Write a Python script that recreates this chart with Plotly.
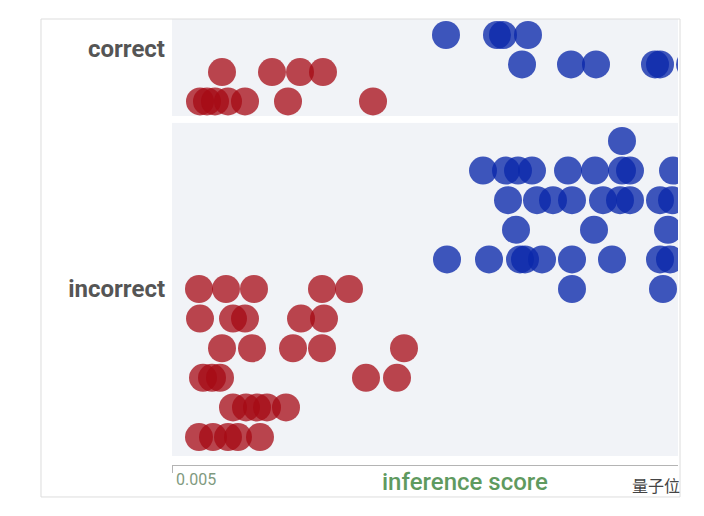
import plotly.graph_objects as go

# swarm positions: x = inference score, y = lane offset inside each band
correct_red_x = [0.105, 0.205, 0.261, 0.307,
                 0.061, 0.075, 0.091, 0.117, 0.151, 0.237, 0.407]
correct_red_y = [-0.13] * 4 + [-1.12] * 7

correct_blue_x = [0.553, 0.655, 0.667, 0.717,
                  0.705, 0.803, 0.853, 0.971, 0.981, 1.041]
correct_blue_y = [1.12] * 4 + [0.13] * 6

incorrect_blue_x = [0.905,
                    0.627, 0.673, 0.697, 0.725, 0.797, 0.851, 0.905, 0.921, 1.007,
                    0.677, 0.735, 0.767, 0.805, 0.867, 0.901, 0.921, 0.981, 1.005,
                    0.693, 0.849, 0.997,
                    0.555, 0.639, 0.701, 0.711, 0.745, 0.805, 0.885, 0.981, 1.001,
                    0.805, 0.987]
incorrect_blue_y = [5] + [4] * 9 + [3] * 9 + [2] * 3 + [1] * 9 + [0] * 2

incorrect_red_x = [0.059, 0.113, 0.169, 0.305, 0.359,
                   0.061, 0.127, 0.151, 0.263, 0.309,
                   0.105, 0.165, 0.247, 0.305, 0.469,
                   0.067, 0.085, 0.101, 0.393, 0.455,
                   0.127, 0.153, 0.175, 0.195, 0.233,
                   0.059, 0.087, 0.117, 0.137, 0.181]
incorrect_red_y = [0] * 5 + [-1] * 5 + [-2] * 5 + [-3] * 5 + [-4] * 5 + [-5] * 5

x_ticks = [0.005]
x_tick_text = ["0.005"]

RED = "rgb(165,10,20)"
BLUE = "rgb(10,40,170)"


def dots(x, y, color, yaxis, alpha):
    return go.Scatter(x=x, y=y, mode="markers", yaxis=yaxis, xaxis="x",
                      marker=dict(size=28, color=color, opacity=alpha, line=dict(width=0)),
                      hoverinfo="x", showlegend=False)


fig = go.Figure()
fig.add_trace(dots(incorrect_red_x, incorrect_red_y, RED, "y", 0.75))
fig.add_trace(dots(incorrect_blue_x, incorrect_blue_y, BLUE, "y", 0.78))
fig.add_trace(dots(correct_red_x, correct_red_y, RED, "y2", 0.75))
fig.add_trace(dots(correct_blue_x, correct_blue_y, BLUE, "y2", 0.78))

label_font = dict(family="Roboto", size=24, color="#555555", weight="bold")

# page body has an 8px margin, so plot area is offset accordingly
fig.update_layout(
    width=704, height=516,
    margin=dict(l=164, r=34, t=11, b=59),
    paper_bgcolor="white",
    plot_bgcolor="#f1f3f7",
    xaxis=dict(range=[0.005, 1.017], anchor="free", position=0,
               showgrid=False, zeroline=False,
               showline=True, linecolor="#b4b4b4", linewidth=1,
               ticks="outside", ticklen=7, tickcolor="#b4b4b4",
               tickvals=x_ticks, ticktext=x_tick_text,
               ticklabelposition="outside right", ticklabelshift=3,
               tickfont=dict(family="Roboto", size=16, color="#7f9a80")),
    yaxis=dict(domain=[0.0202, 0.767], range=[-5.64, 5.61],
               showgrid=False, zeroline=False, showline=False,
               tickvals=[0], ticktext=["incorrect"], tickfont=label_font,
               ticklabelstandoff=6),
    yaxis2=dict(domain=[0.7825, 1.0], range=[-1.61, 1.66], anchor="x",
                showgrid=False, zeroline=False, showline=False,
                tickvals=[0.65], ticktext=["correct"], tickfont=label_font,
                ticklabelstandoff=6),
    shapes=[dict(type="rect", xref="paper", yref="paper",
                 x0=-0.2589, x1=1.004, y0=-0.0717, y1=1.0,
                 line=dict(color="#dddddd", width=1), layer="below")],
    annotations=[
        dict(text="inference score", xref="paper", yref="paper",
             x=0.579, y=-0.0381, showarrow=False, xanchor="center", yanchor="middle",
             font=dict(family="Roboto", size=24, color="#5f9a5f", weight=500)),
        dict(text="量子位", xref="paper", yref="paper",
             x=0.9565, y=-0.045, showarrow=False, xanchor="center", yanchor="middle",
             font=dict(family="Noto Sans CJK SC", size=16, color="#444444")),
    ],
)

fig.write_html("out.html")
